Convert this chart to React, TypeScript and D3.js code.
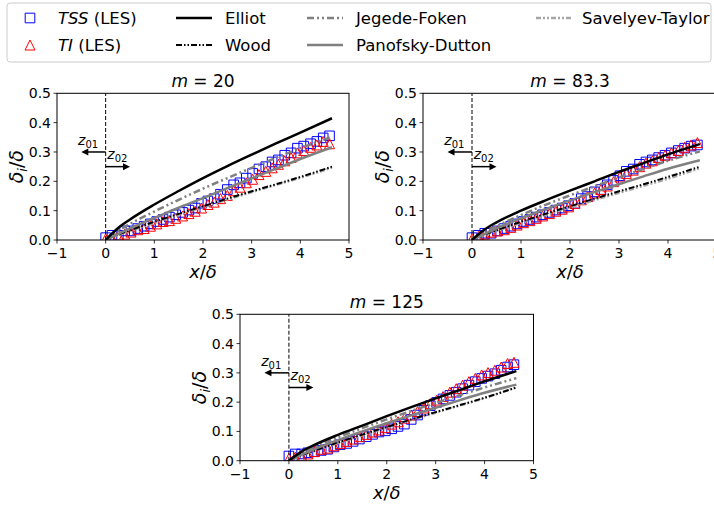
import React from "react";
import * as d3 from "d3";

// ---------- data ----------
const markerX = [0, 0.13, 0.26, 0.39, 0.52, 0.66, 0.79, 0.92, 1.05, 1.18, 1.31, 1.44, 1.58, 1.71, 1.84, 1.97, 2.1, 2.23, 2.36, 2.5, 2.63, 2.76, 2.89, 3.02, 3.15, 3.29, 3.42, 3.55, 3.68, 3.81, 3.94, 4.07, 4.21, 4.34, 4.47, 4.6];

const tssM20 = [0.008, 0.016, 0.016, 0.031, 0.031, 0.039, 0.047, 0.055, 0.063, 0.07, 0.078, 0.086, 0.094, 0.102, 0.109, 0.125, 0.133, 0.141, 0.156, 0.172, 0.188, 0.195, 0.211, 0.227, 0.242, 0.25, 0.266, 0.273, 0.289, 0.297, 0.313, 0.32, 0.328, 0.336, 0.348, 0.355];
const tiM20 = [0.004, 0.008, 0.016, 0.02, 0.027, 0.035, 0.039, 0.047, 0.055, 0.063, 0.066, 0.074, 0.082, 0.09, 0.098, 0.109, 0.121, 0.129, 0.141, 0.152, 0.168, 0.18, 0.195, 0.207, 0.223, 0.234, 0.246, 0.258, 0.27, 0.281, 0.297, 0.305, 0.316, 0.324, 0.336, 0.328];

const tssM83 = [0.008, 0.016, 0.023, 0.023, 0.031, 0.039, 0.047, 0.055, 0.063, 0.07, 0.078, 0.086, 0.094, 0.102, 0.109, 0.117, 0.125, 0.141, 0.148, 0.164, 0.172, 0.188, 0.203, 0.219, 0.234, 0.242, 0.258, 0.266, 0.273, 0.281, 0.289, 0.297, 0.305, 0.313, 0.32, 0.324];
const tiM83 = [0.004, 0.012, 0.02, 0.027, 0.031, 0.035, 0.043, 0.051, 0.059, 0.066, 0.074, 0.082, 0.09, 0.098, 0.105, 0.113, 0.125, 0.137, 0.148, 0.16, 0.172, 0.184, 0.199, 0.215, 0.227, 0.238, 0.25, 0.262, 0.27, 0.281, 0.289, 0.297, 0.305, 0.316, 0.324, 0.332];

const tssM125 = [0.016, 0.023, 0.023, 0.027, 0.031, 0.035, 0.039, 0.047, 0.055, 0.059, 0.066, 0.074, 0.082, 0.09, 0.098, 0.102, 0.109, 0.117, 0.125, 0.141, 0.156, 0.172, 0.188, 0.199, 0.211, 0.223, 0.234, 0.246, 0.258, 0.27, 0.281, 0.289, 0.297, 0.309, 0.32, 0.328];
const tiM125 = [0.008, 0.012, 0.016, 0.023, 0.031, 0.039, 0.043, 0.051, 0.059, 0.066, 0.074, 0.082, 0.09, 0.098, 0.105, 0.113, 0.125, 0.133, 0.145, 0.156, 0.168, 0.18, 0.195, 0.207, 0.219, 0.234, 0.246, 0.258, 0.27, 0.281, 0.293, 0.301, 0.309, 0.32, 0.332, 0.336];

const modelX = [0, 0.25, 0.5, 1, 1.5, 2, 2.5, 3, 3.5, 4, 4.65];

const elliotM20 = [0, 0.04, 0.07, 0.121, 0.167, 0.211, 0.252, 0.291, 0.329, 0.366, 0.415];
const jegedeM20 = [0, 0.03, 0.055, 0.097, 0.137, 0.175, 0.211, 0.246, 0.28, 0.313, 0.352];
const panofskyM20 = [0, 0.02, 0.04, 0.075, 0.11, 0.143, 0.177, 0.21, 0.243, 0.276, 0.316];
const woodM20 = [0, 0.018, 0.033, 0.062, 0.089, 0.115, 0.141, 0.166, 0.19, 0.215, 0.25];
const savelyevM20 = [0, 0.016, 0.031, 0.059, 0.086, 0.112, 0.138, 0.163, 0.188, 0.212, 0.247];

const elliotM83 = [0, 0.035, 0.06, 0.1, 0.135, 0.168, 0.2, 0.232, 0.262, 0.292, 0.327];
const jegedeM83 = [0, 0.025, 0.047, 0.085, 0.12, 0.152, 0.183, 0.213, 0.242, 0.27, 0.302];
const panofskyM83 = [0, 0.02, 0.04, 0.074, 0.105, 0.135, 0.163, 0.19, 0.217, 0.243, 0.272];
const woodM83 = [0, 0.018, 0.033, 0.062, 0.089, 0.115, 0.141, 0.166, 0.19, 0.215, 0.25];
const savelyevM83 = [0, 0.016, 0.031, 0.058, 0.085, 0.111, 0.136, 0.161, 0.185, 0.209, 0.245];

const elliotM125 = [0, 0.03, 0.052, 0.088, 0.12, 0.152, 0.183, 0.213, 0.242, 0.271, 0.306];
const jegedeM125 = [0, 0.024, 0.045, 0.08, 0.111, 0.141, 0.17, 0.197, 0.224, 0.25, 0.282];
const panofskyM125 = [0, 0.02, 0.038, 0.07, 0.1, 0.128, 0.155, 0.181, 0.207, 0.232, 0.26];
const woodM125 = [0, 0.018, 0.033, 0.062, 0.089, 0.115, 0.141, 0.166, 0.19, 0.215, 0.25];
const savelyevM125 = [0, 0.017, 0.032, 0.06, 0.087, 0.113, 0.139, 0.164, 0.189, 0.214, 0.251];

const panelTitles = ["20", "83.3", "125"];
const xTicks = [-1, 0, 1, 2, 3, 4, 5];
const yTicks = [0, 0.1, 0.2, 0.3, 0.4, 0.5];

const legendNames = ["TSS", "TI", "Elliot", "Wood", "Jegede-Foken", "Panofsky-Dutton", "Savelyev-Taylor"];

// ---------- styles ----------
const FONT = "DejaVu Sans, sans-serif";
const styles: Record<string, { stroke: string; width: number; dash?: string }> = {
  elliot: { stroke: "#000", width: 2.5 },
  wood: { stroke: "#000", width: 2, dash: "6,2,1.5,2,1.5,2" },
  jegede: { stroke: "#808080", width: 2.5, dash: "7,3,2,3,2,3" },
  panofsky: { stroke: "#808080", width: 2.5 },
  savelyev: { stroke: "#a6a6a6", width: 2.5, dash: "5,2,2,2,2,2" },
};

type PanelDef = {
  title: string;
  left: number;
  right: number;
  top: number;
  bottom: number;
  tss: number[];
  ti: number[];
  models: { key: string; values: number[] }[];
};

const panels: PanelDef[] = [
  {
    title: panelTitles[0], left: 57, right: 349, top: 93.3, bottom: 240,
    tss: tssM20, ti: tiM20,
    models: [
      { key: "savelyev", values: savelyevM20 },
      { key: "wood", values: woodM20 },
      { key: "panofsky", values: panofskyM20 },
      { key: "jegede", values: jegedeM20 },
      { key: "elliot", values: elliotM20 },
    ],
  },
  {
    title: panelTitles[1], left: 423, right: 717, top: 93.3, bottom: 240,
    tss: tssM83, ti: tiM83,
    models: [
      { key: "savelyev", values: savelyevM83 },
      { key: "wood", values: woodM83 },
      { key: "panofsky", values: panofskyM83 },
      { key: "jegede", values: jegedeM83 },
      { key: "elliot", values: elliotM83 },
    ],
  },
  {
    title: panelTitles[2], left: 240, right: 533.5, top: 314.3, bottom: 460.7,
    tss: tssM125, ti: tiM125,
    models: [
      { key: "savelyev", values: savelyevM125 },
      { key: "wood", values: woodM125 },
      { key: "panofsky", values: panofskyM125 },
      { key: "jegede", values: jegedeM125 },
      { key: "elliot", values: elliotM125 },
    ],
  },
];

const sq = (cx: number, cy: number, h: number) =>
  `M${cx - h},${cy - h}H${cx + h}V${cy + h}H${cx - h}Z`;
const tri = (cx: number, cy: number, h: number) =>
  `M${cx},${cy - h}L${cx + h},${cy + h}L${cx - h},${cy + h}Z`;

function Panel({ p, idx }: { p: PanelDef; idx: number }) {
  const x = d3.scaleLinear().domain([-1, 5]).range([p.left, p.right]);
  const y = d3.scaleLinear().domain([0, 0.5]).range([p.bottom, p.top]);
  const line = d3
    .line<[number, number]>()
    .x((d) => x(d[0]))
    .y((d) => y(d[1]))
    .curve(d3.curveMonotoneX);
  const clipId = `clip${idx}`;
  const cx = (p.left + p.right) / 2;
  const x0 = x(0);
  return (
    <g>
      <defs>
        <clipPath id={clipId}>
          <rect x={p.left} y={p.top} width={p.right - p.left} height={p.bottom - p.top} />
        </clipPath>
      </defs>
      <g clipPath={`url(#${clipId})`}>
        {p.tss.map((v, i) => (
          <path key={"s" + i} d={sq(x(markerX[i]), y(v), 4.8)} fill="none" stroke="#0000ff" strokeWidth={1} />
        ))}
        {p.ti.map((v, i) => (
          <path key={"t" + i} d={tri(x(markerX[i]), y(v), 5)} fill="none" stroke="#ff0000" strokeWidth={1} />
        ))}
        {p.models.map((m) => {
          const s = styles[m.key];
          const pts = modelX.map((xx, i) => [xx, m.values[i]] as [number, number]);
          return (
            <path key={m.key} d={line(pts) || ""} fill="none" stroke={s.stroke} strokeWidth={s.width} strokeDasharray={s.dash} />
          );
        })}
        <line x1={x0} x2={x0} y1={y(0)} y2={y(0.5)} stroke="#000" strokeWidth={1} strokeDasharray="4,2" />
      </g>
      {/* arrows */}
      <line x1={x0} x2={x(-0.5) + 5} y1={y(0.3)} y2={y(0.3)} stroke="#000" strokeWidth={1.5} />
      <path d={`M${x(-0.5)},${y(0.3)}l7,-3.5v7z`} fill="#000" />
      <line x1={x0} x2={x(0.5) - 5} y1={y(0.25)} y2={y(0.25)} stroke="#000" strokeWidth={1.5} />
      <path d={`M${x(0.5)},${y(0.25)}l-7,-3.5v7z`} fill="#000" />
      <text x={x(-0.36)} y={y(0.325)} fontFamily={FONT} fontSize={14} textAnchor="middle">
        <tspan fontStyle="italic">z</tspan>
        <tspan fontSize={10} dy={3}>01</tspan>
      </text>
      <text x={x(0.24)} y={y(0.275)} fontFamily={FONT} fontSize={14} textAnchor="middle">
        <tspan fontStyle="italic">z</tspan>
        <tspan fontSize={10} dy={3}>02</tspan>
      </text>
      {/* frame */}
      <rect x={p.left} y={p.top} width={p.right - p.left} height={p.bottom - p.top} fill="none" stroke="#000" strokeWidth={1} />
      {/* ticks */}
      {xTicks.map((t) => (
        <g key={"x" + t}>
          <line x1={x(t)} x2={x(t)} y1={p.bottom} y2={p.bottom + 3.5} stroke="#000" strokeWidth={0.8} />
          <text x={x(t)} y={p.bottom + 18} fontFamily={FONT} fontSize={14} textAnchor="middle">
            {t < 0 ? "\u2212" + Math.abs(t) : String(t)}
          </text>
        </g>
      ))}
      {yTicks.map((t) => (
        <g key={"y" + t}>
          <line x1={p.left} x2={p.left - 3.5} y1={y(t)} y2={y(t)} stroke="#000" strokeWidth={0.8} />
          <text x={p.left - 6} y={y(t) + 5} fontFamily={FONT} fontSize={14} textAnchor="end">
            {t.toFixed(1)}
          </text>
        </g>
      ))}
      {/* title */}
      <text x={cx} y={p.top - 6} fontFamily={FONT} fontSize={17} textAnchor="middle">
        <tspan fontStyle="italic">m</tspan>
        <tspan>{" = " + p.title}</tspan>
      </text>
      {/* x label */}
      <text x={cx} y={p.bottom + 38} fontFamily={FONT} fontSize={18} textAnchor="middle">
        <tspan fontStyle="italic">x</tspan>
        <tspan>/</tspan>
        <tspan fontStyle="italic">δ</tspan>
      </text>
      {/* y label */}
      <text
        transform={`translate(${p.left - 34},${(p.top + p.bottom) / 2}) rotate(-90)`}
        fontFamily={FONT}
        fontSize={19}
        textAnchor="middle"
      >
        <tspan fontStyle="italic">δ</tspan>
        <tspan fontStyle="italic" fontSize={13} dy={4}>i</tspan>
        <tspan dy={-4}>/</tspan>
        <tspan fontStyle="italic">δ</tspan>
      </text>
    </g>
  );
}

function Legend() {
  const r1 = 18;
  const r2 = 45;
  const fs = 16.5;
  const lineEntry = (x1: number, yy: number, key: string) => {
    const s = styles[key];
    return <line x1={x1} x2={x1 + 36} y1={yy} y2={yy} stroke={s.stroke} strokeWidth={s.width} strokeDasharray={s.dash} />;
  };
  return (
    <g fontFamily={FONT} fontSize={fs}>
      <rect x={7} y={3} width={704} height={59} rx={3} fill="#fff" stroke="#cccccc" strokeWidth={1} />
      <path d={sq(30, r1, 4.8)} fill="none" stroke="#0000ff" />
      <path d={tri(30, r2, 5)} fill="none" stroke="#ff0000" />
      <text x={58} y={r1 + 6}>
        <tspan fontStyle="italic">{legendNames[0]}</tspan>
        <tspan>{" (LES)"}</tspan>
      </text>
      <text x={58} y={r2 + 6}>
        <tspan fontStyle="italic">{legendNames[1]}</tspan>
        <tspan>{" (LES)"}</tspan>
      </text>
      {lineEntry(176, r1, "elliot")}
      {lineEntry(176, r2, "wood")}
      <text x={225} y={r1 + 6}>{legendNames[2]}</text>
      <text x={225} y={r2 + 6}>{legendNames[3]}</text>
      {lineEntry(307, r1, "jegede")}
      {lineEntry(307, r2, "panofsky")}
      <text x={356} y={r1 + 6}>{legendNames[4]}</text>
      <text x={356} y={r2 + 6}>{legendNames[5]}</text>
      {lineEntry(536, r1, "savelyev")}
      <text x={582} y={r1 + 6}>{legendNames[6]}</text>
    </g>
  );
}

export default function App() {
  return (
    <svg width={714} height={505} style={{ position: "absolute", left: 0, top: 0, background: "#fff" }}>
      <rect x={0} y={0} width={714} height={505} fill="#fff" />
      {panels.map((p, i) => (
        <Panel key={i} p={p} idx={i} />
      ))}
      <Legend />
    </svg>
  );
}
